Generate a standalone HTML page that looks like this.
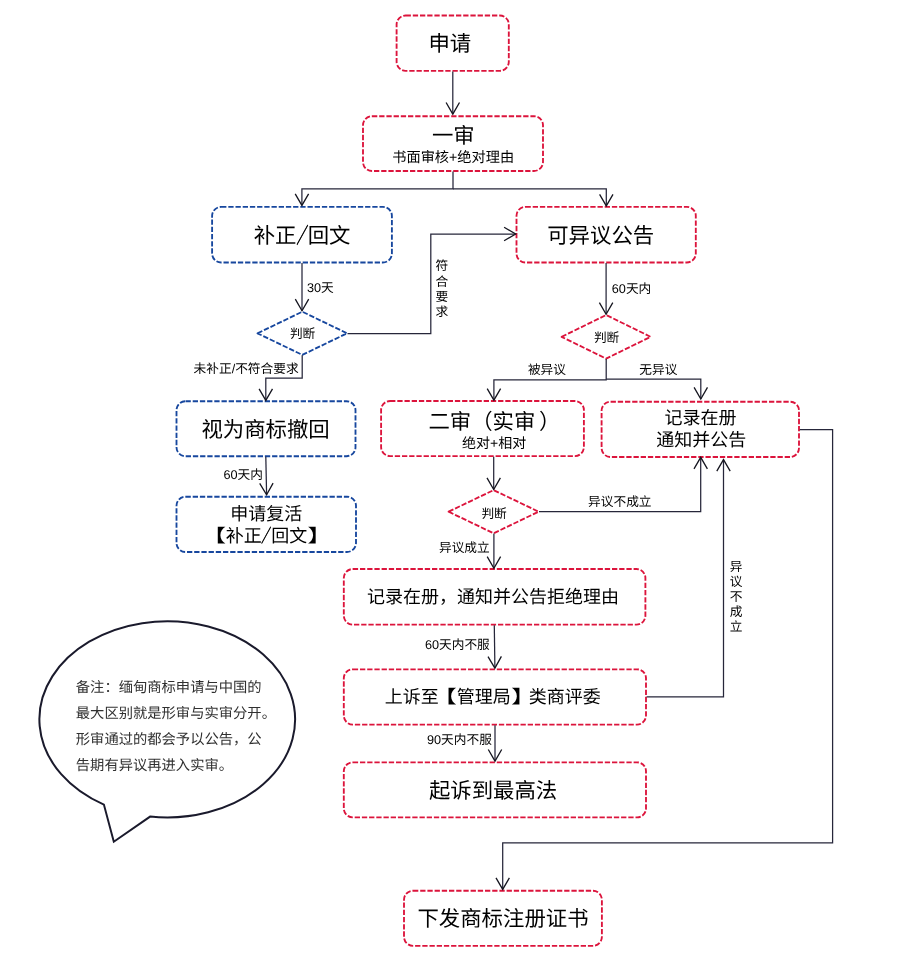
<!DOCTYPE html>
<html lang="zh-CN">
<head>
<meta charset="utf-8">
<title>缅甸商标申请流程</title>
<style>
html,body{margin:0;padding:0;background:#fff;}
body{width:909px;height:955px;position:relative;overflow:hidden;font-family:"Liberation Sans",sans-serif;color:#000;}
svg{position:absolute;left:0;top:0;}
#t{position:absolute;left:0;top:0;width:909px;height:955px;will-change:transform;text-rendering:geometricPrecision;}
#t div{position:absolute;white-space:nowrap;line-height:1;}
.c{transform:translate(-50%,-50%);text-align:center;}
.l{transform:translate(0,-50%);}
.v{transform:translate(-50%,0);text-align:center;}
.v span{display:block;}
.n{transform:translate(0,-50%);color:#303030;}
.sl{display:inline-block;transform:scaleX(.55);margin:0 -.24em;-webkit-text-stroke:.035em #000;}
.bl,.br{display:inline-block;transform:scaleX(1.4);}
.bl{transform-origin:100% 50%;}
.br{transform-origin:0 50%;}
.pr{position:relative;left:.17em;}
</style>
</head>
<body>
<svg width="909" height="955" viewBox="0 0 909 955" fill="none">
<g stroke-width="1.85" stroke-dasharray="5.3 1.9" stroke-linejoin="round">
<rect x="396.6" y="15.5" width="112.2" height="55.3" rx="9" ry="9" stroke="#dc143c"/>
<rect x="363" y="116.2" width="180" height="54.8" rx="9" ry="9" stroke="#dc143c"/>
<rect x="212.1" y="206.9" width="179.8" height="55.6" rx="9" ry="9" stroke="#17479e"/>
<rect x="516.5" y="206.8" width="179.3" height="55.7" rx="9" ry="9" stroke="#dc143c"/>
<rect x="176.5" y="401.2" width="179" height="55" rx="9" ry="9" stroke="#17479e"/>
<rect x="176.5" y="496.7" width="179.5" height="55.3" rx="9" ry="9" stroke="#17479e"/>
<rect x="381.1" y="401" width="202.8" height="55.1" rx="9" ry="9" stroke="#dc143c"/>
<rect x="601.6" y="401.7" width="197.4" height="55.3" rx="9" ry="9" stroke="#dc143c"/>
<rect x="343.8" y="569" width="301.6" height="55.6" rx="9" ry="9" stroke="#dc143c"/>
<rect x="343.8" y="669.3" width="302.2" height="55.3" rx="9" ry="9" stroke="#dc143c"/>
<rect x="343.8" y="762.3" width="302.2" height="55.1" rx="9" ry="9" stroke="#dc143c"/>
<rect x="404" y="890.7" width="197.9" height="55.1" rx="9" ry="9" stroke="#dc143c"/>
<path d="M257.5 333.3L302.3 311.7L347.1 333.3L302.3 354.9Z" stroke="#17479e"/>
<path d="M561.6 336.8L606.1 315L650.6 336.8L606.1 358.6Z" stroke="#dc143c"/>
<path d="M448.6 511.7L493.6 490.1L538.6 511.7L493.6 533.3Z" stroke="#dc143c"/>
</g>
<g stroke="#26263a" stroke-width="1.25">
<path d="M452.8 71.5L452.8 114.1"/>
<path d="M453 171.5L453 188.9L301.9 188.9L301.9 205.4"/>
<path d="M453 188.9L606.3 188.9L606.3 205.9"/>
<path d="M302 263L302 310.8"/>
<path d="M347.5 333.5L430.8 333.5L430.8 234L515.7 234"/>
<path d="M302.2 355.2L302.2 378L265.8 378L265.8 400.4"/>
<path d="M265.8 456.8L266.6 494.8"/>
<path d="M606.1 263L606.1 314.3"/>
<path d="M606.2 359L606.2 379.9L493.9 379.9L493.9 400.2"/>
<path d="M606.2 379L700.8 379L700.8 399"/>
<path d="M493.7 456.7L493.7 489.5"/>
<path d="M539 511.6L700.7 511.6L700.7 457.3"/>
<path d="M493.9 533.6L493.9 568.3"/>
<path d="M494.3 625.2L494.9 668.1"/>
<path d="M495 725.2L495 761.1"/>
<path d="M646.6 696.9L723.5 696.9L723.5 459.6"/>
<path d="M799.8 429.6L832.6 429.6L832.6 842.9L502.7 842.9L502.7 889.4"/>
</g>
<g stroke="#15151f" stroke-width="1.3">
<path d="M446.1 102.5L452.8 114.1L459.5 102.5"/>
<path d="M295.2 193.8L301.9 205.4L308.6 193.8"/>
<path d="M599.6 194.3L606.3 205.9L613.0 194.3"/>
<path d="M295.3 299.2L302.0 310.8L308.7 299.2"/>
<path d="M504.1 240.7L515.7 234.0L504.1 227.3"/>
<path d="M259.1 388.8L265.8 400.4L272.5 388.8"/>
<path d="M259.7 483.3L266.6 494.8L273.1 483.1"/>
<path d="M599.4 302.7L606.1 314.3L612.8 302.7"/>
<path d="M487.2 388.6L493.9 400.2L500.6 388.6"/>
<path d="M694.1 387.4L700.8 399.0L707.5 387.4"/>
<path d="M487.0 477.9L493.7 489.5L500.4 477.9"/>
<path d="M707.4 468.9L700.7 457.3L694.0 468.9"/>
<path d="M487.2 556.7L493.9 568.3L500.6 556.7"/>
<path d="M488.0 656.6L494.9 668.1L501.4 656.4"/>
<path d="M488.3 749.5L495.0 761.1L501.7 749.5"/>
<path d="M730.2 471.2L723.5 459.6L716.8 471.2"/>
<path d="M496.0 877.8L502.7 889.4L509.4 877.8"/>
</g>
<path d="M103.9 804.6A127.85 98.1 0 1 1 150.1 816.6L113.8 841.7Z" stroke="#1a1a2c" stroke-width="2" stroke-linejoin="miter" fill="#fff"/>
</svg>
<div id="t">
<div class="c" style="left:449.8px;top:44.6px;font-size:21.4px">申请</div>
<div class="c" style="left:453.3px;top:136.6px;font-size:21.4px">一审</div>
<div class="c" style="left:453.2px;top:157.56px;font-size:14.2px">书面审核+绝对理由</div>
<div class="c" style="left:302.1px;top:237.2px;font-size:21.4px">补正<span class="sl">／</span>回文</div>
<div class="c" style="left:600.7px;top:236.6px;font-size:21.4px">可异议公告</div>
<div class="c" style="left:265.6px;top:431.21px;font-size:21.4px">视为商标撤回</div>
<div class="c" style="left:266.2px;top:513.85px;font-size:18px">申请复活</div>
<div class="c" style="left:266.5px;top:536.05px;font-size:18px"><span class="bl">【</span>补正<span class="sl">／</span>回文<span class="br">】</span></div>
<div class="c" style="left:492.6px;top:422.91px;font-size:21.4px">二审（实审<span class="pr">）</span></div>
<div class="c" style="left:494.1px;top:443.35px;font-size:14px">绝对+相对</div>
<div class="c" style="left:700.6px;top:417.55px;font-size:18px">记录在册</div>
<div class="c" style="left:701.2px;top:439.75px;font-size:18px">通知并公告</div>
<div class="c" style="left:493.1px;top:596.65px;font-size:18px">记录在册，通知并公告拒绝理由</div>
<div class="c" style="left:492.8px;top:697.25px;font-size:18px">上诉至<span class="bl">【</span>管理局<span class="br">】</span>类商评委</div>
<div class="c" style="left:493.1px;top:791.61px;font-size:21.4px">起诉到最高法</div>
<div class="c" style="left:503px;top:920.21px;font-size:21.4px">下发商标注册证书</div>
<div class="c" style="left:302.6px;top:334.25px;font-size:12.7px">判断</div>
<div class="c" style="left:606.6px;top:337.95px;font-size:12.7px">判断</div>
<div class="c" style="left:494.1px;top:513.75px;font-size:12.7px">判断</div>
<div class="l" style="left:307px;top:288.45px;font-size:12.7px">30天</div>
<div class="l" style="left:611.8px;top:288.95px;font-size:12.7px">60天内</div>
<div class="l" style="left:193.6px;top:369.15px;font-size:12.7px">未补正/不符合要求</div>
<div class="l" style="left:223.4px;top:475.15px;font-size:12.7px">60天内</div>
<div class="l" style="left:527.9px;top:370.45px;font-size:12.7px">被异议</div>
<div class="l" style="left:639.3px;top:370.45px;font-size:12.7px">无异议</div>
<div class="l" style="left:588.1px;top:501.95px;font-size:12.7px">异议不成立</div>
<div class="l" style="left:439px;top:547.95px;font-size:12.7px">异议成立</div>
<div class="l" style="left:424.9px;top:644.95px;font-size:12.7px">60天内不服</div>
<div class="l" style="left:427px;top:740.15px;font-size:12.7px">90天内不服</div>
<div class="v" style="left:441.8px;top:259.38px;font-size:12.7px;line-height:15.15px"><span>符</span><span>合</span><span>要</span><span>求</span></div>
<div class="v" style="left:736px;top:559.5px;font-size:12.7px;line-height:15.1px"><span>异</span><span>议</span><span>不</span><span>成</span><span>立</span></div>
<div class="n" style="left:75.8px;top:688.47px;font-size:14.3px">备注：缅甸商标申请与中国的</div>
<div class="n" style="left:75.8px;top:714.37px;font-size:14.3px">最大区别就是形审与实审分开。</div>
<div class="n" style="left:75.8px;top:740.17px;font-size:14.3px">形审通过的都会予以公告，公</div>
<div class="n" style="left:75.8px;top:765.87px;font-size:14.3px">告期有异议再进入实审。</div>
</div>
</body>
</html>
